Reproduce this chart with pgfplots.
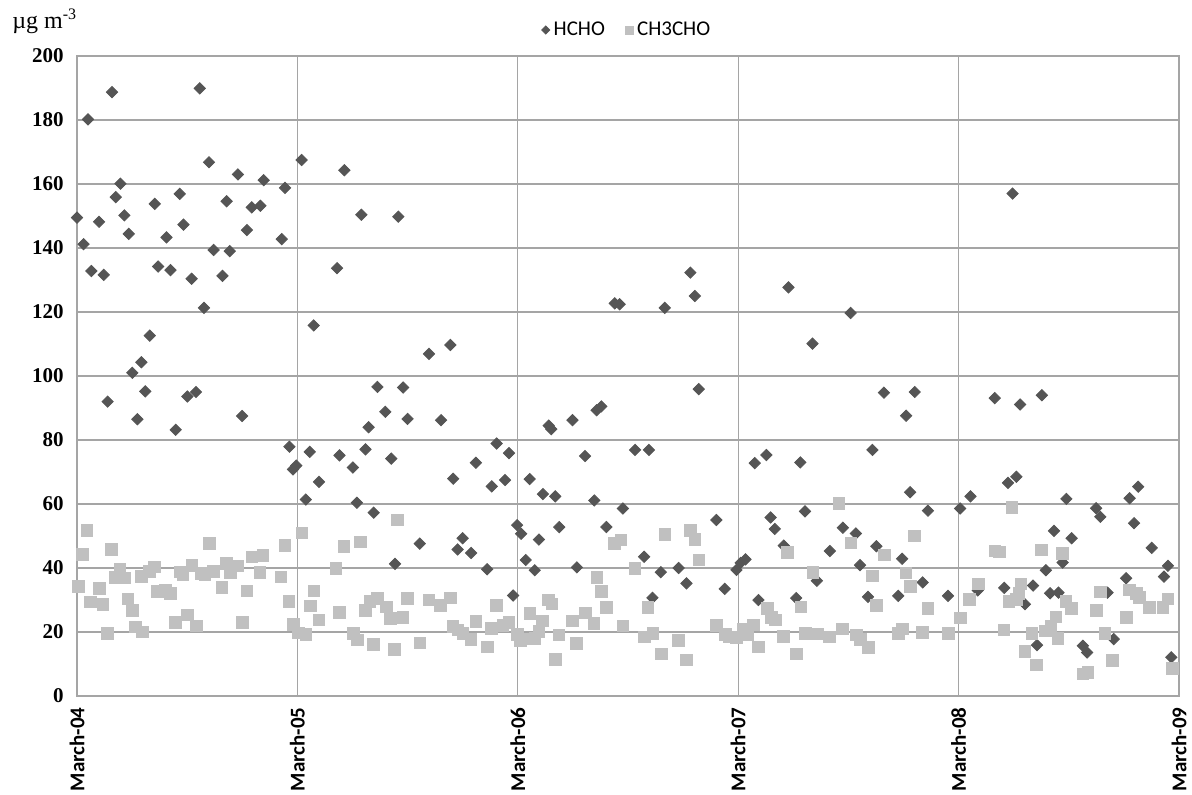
\documentclass[border=0pt]{standalone}
\usepackage{pgfplots}
\pgfplotsset{compat=1.18}
\usepackage{fontspec}
\setmainfont{Liberation Serif}
\newfontfamily\calib{Carlito}
\definecolor{gridc}{RGB}{165,165,165}
\definecolor{hcho}{RGB}{85,85,85}
\definecolor{acet}{RGB}{192,192,192}
\begin{document}
\begin{tikzpicture}[x=1pt,y=1pt]
\useasboundingbox (-38.5,-49) rectangle (557.5,348);
\begin{axis}[
  at={(0,0)}, anchor=south west,
  scale only axis, width=551pt, height=320pt,
  xmin=0, xmax=5, ymin=0, ymax=200,
  xtick={0,1,2,3,4,5},
  xticklabels={March-04,March-05,March-06,March-07,March-08,March-09},
  ytick={0,20,...,200},
  grid=major,
  major grid style={draw=gridc, line width=0.6pt},
  axis line style={draw=gridc, line width=0.7pt},
  major tick length=0pt,
  /pgf/number format/assume math mode=true,
  xticklabel style={font=\calib\bfseries\fontsize{10.5}{12}\selectfont, rotate=90, anchor=east, inner sep=0pt},
  yticklabel style={font=\bfseries\fontsize{10.5}{12}\selectfont, anchor=east, inner sep=0pt},
  xticklabel shift=5.5pt,
  yticklabel shift=6.5pt,
  clip=false,
  legend style={at={(0.5,1)}, anchor=center, yshift=13pt, draw=none, fill=none,
    font=\calib\fontsize{10.5}{12}\selectfont,
    /tikz/every even column/.append style={column sep=8pt}},
  legend columns=-1,
  legend image post style={every mark/.append style={scale=0.7}},
]
\addplot[only marks, mark=square*, mark size=2.0pt, mark options={rotate=45, fill=hcho, draw=hcho}] table {
x y
0.000 149.5
0.030 141.2
0.050 180.2
0.065 132.8
0.100 148.2
0.121 131.6
0.139 92.0
0.159 188.7
0.176 155.9
0.197 160.1
0.215 150.2
0.235 144.4
0.251 101.0
0.274 86.5
0.292 104.3
0.310 95.2
0.330 112.6
0.353 153.8
0.368 134.2
0.406 143.3
0.424 133.1
0.448 83.2
0.466 156.9
0.483 147.3
0.501 93.6
0.520 130.4
0.540 95.0
0.557 189.9
0.576 121.3
0.599 166.8
0.620 139.4
0.660 131.3
0.679 154.6
0.693 139.0
0.730 163.0
0.749 87.5
0.771 145.6
0.793 152.7
0.832 153.2
0.847 161.2
0.929 142.8
0.944 158.8
0.964 77.9
0.980 70.8
0.995 72.0
1.019 167.5
1.038 61.4
1.056 76.3
1.074 115.8
1.098 66.9
1.180 133.7
1.191 75.2
1.213 164.3
1.252 71.4
1.270 60.4
1.290 150.4
1.309 77.1
1.323 84.0
1.346 57.3
1.363 96.6
1.399 88.8
1.426 74.2
1.443 41.3
1.458 149.8
1.480 96.4
1.500 86.6
1.555 47.6
1.597 106.9
1.652 86.2
1.694 109.7
1.707 67.9
1.727 45.8
1.750 49.3
1.788 44.7
1.810 72.9
1.861 39.6
1.882 65.5
1.904 78.9
1.942 67.5
1.960 75.9
1.979 31.4
1.997 53.4
2.015 50.7
2.036 42.5
2.054 67.8
2.077 39.3
2.096 48.9
2.114 63.1
2.140 84.5
2.152 83.4
2.170 62.4
2.188 52.8
2.248 86.2
2.268 40.2
2.305 75.0
2.347 61.1
2.358 89.3
2.379 90.5
2.402 52.8
2.440 122.7
2.462 122.4
2.477 58.6
2.532 76.9
2.573 43.5
2.595 76.9
2.611 30.7
2.649 38.7
2.667 121.3
2.730 40.0
2.765 35.2
2.783 132.3
2.803 125.0
2.821 95.9
2.901 55.0
2.939 33.5
2.992 39.4
3.011 41.6
3.033 42.7
3.075 72.8
3.092 30.0
3.128 75.3
3.147 55.8
3.166 52.2
3.207 47.0
3.228 127.7
3.263 30.6
3.282 73.0
3.303 57.7
3.337 110.1
3.357 36.0
3.416 45.3
3.475 52.6
3.510 119.7
3.534 50.8
3.553 40.9
3.589 31.0
3.609 76.9
3.627 46.8
3.661 94.8
3.726 31.3
3.744 42.9
3.762 87.6
3.780 63.7
3.801 95.0
3.837 35.5
3.861 57.9
3.952 31.3
4.007 58.6
4.054 62.4
4.087 33.0
4.164 93.1
4.207 33.8
4.224 66.6
4.245 157.0
4.262 68.5
4.279 91.1
4.301 28.7
4.338 34.5
4.356 15.9
4.378 94.0
4.396 39.3
4.415 32.1
4.433 51.6
4.453 32.3
4.472 41.7
4.489 61.6
4.513 49.3
4.564 15.7
4.583 13.6
4.624 58.7
4.643 56.0
4.676 32.3
4.704 17.8
4.760 36.8
4.776 61.8
4.796 54.0
4.815 65.4
4.876 46.3
4.932 37.3
4.950 40.7
4.965 12.1
};
\addlegendentry{HCHO}
\addplot[only marks, mark=square*, mark size=2.9pt, mark options={fill=acet, draw=acet}] table {
x y
0.005 34.2
0.025 44.2
0.045 51.8
0.062 29.4
0.102 33.6
0.118 28.7
0.138 19.6
0.157 45.8
0.173 37.0
0.194 39.6
0.216 36.9
0.231 30.3
0.251 26.7
0.266 21.6
0.291 37.4
0.298 20.0
0.328 39.0
0.350 40.3
0.364 32.7
0.402 33.0
0.425 32.1
0.446 23.0
0.466 38.8
0.481 37.8
0.502 25.4
0.521 40.8
0.543 21.9
0.563 38.4
0.581 37.9
0.600 47.7
0.618 38.9
0.657 33.9
0.677 41.4
0.697 38.5
0.727 40.6
0.750 23.0
0.771 32.9
0.793 43.5
0.829 38.6
0.844 43.9
0.926 37.2
0.943 47.0
0.961 29.5
0.982 22.4
1.005 19.7
1.021 51.0
1.039 19.3
1.058 28.2
1.075 32.9
1.098 23.8
1.175 39.9
1.191 26.1
1.211 46.8
1.255 19.6
1.272 17.5
1.286 48.1
1.309 26.7
1.329 29.6
1.345 16.2
1.362 30.5
1.404 27.9
1.422 24.2
1.441 14.5
1.455 55.0
1.479 24.5
1.499 30.5
1.555 16.6
1.597 30.0
1.649 28.4
1.694 30.7
1.706 21.7
1.729 20.6
1.751 19.6
1.788 17.7
1.809 23.4
1.863 15.3
1.880 21.1
1.903 28.4
1.933 22.0
1.959 23.0
1.997 19.2
2.013 17.4
2.036 17.8
2.054 25.8
2.077 18.0
2.096 20.1
2.112 23.5
2.140 30.0
2.155 28.8
2.171 11.4
2.187 19.1
2.248 23.5
2.265 16.5
2.308 26.0
2.346 22.7
2.359 37.1
2.379 32.6
2.402 27.6
2.437 47.7
2.467 48.8
2.477 21.9
2.532 39.9
2.574 18.5
2.591 27.6
2.613 19.6
2.651 13.1
2.668 50.5
2.730 17.4
2.765 11.3
2.784 51.7
2.804 49.0
2.821 42.5
2.900 22.1
2.941 19.3
2.961 18.5
2.992 18.4
3.022 20.8
3.044 19.3
3.070 22.2
3.091 15.4
3.132 27.4
3.151 24.5
3.170 23.8
3.206 18.6
3.223 44.9
3.263 13.1
3.284 27.9
3.304 19.6
3.339 38.7
3.361 19.4
3.413 18.5
3.457 60.2
3.472 21.0
3.512 47.9
3.535 19.1
3.554 17.6
3.592 15.2
3.609 37.5
3.627 28.4
3.662 44.1
3.726 19.5
3.745 21.0
3.760 38.5
3.781 34.2
3.799 50.0
3.837 19.9
3.860 27.4
3.953 19.6
4.007 24.4
4.050 30.2
4.090 35.0
4.164 45.4
4.186 45.0
4.205 20.6
4.229 29.5
4.241 59.0
4.262 30.2
4.274 32.1
4.282 35.0
4.300 13.9
4.333 19.6
4.353 9.7
4.376 45.6
4.395 20.3
4.418 21.8
4.441 24.7
4.451 18.0
4.471 44.6
4.486 29.5
4.512 27.4
4.564 6.9
4.587 7.4
4.625 26.7
4.642 32.5
4.664 19.6
4.699 11.1
4.760 24.5
4.776 33.1
4.807 32.1
4.819 30.8
4.867 27.6
4.927 27.6
4.950 30.4
4.970 8.6
};
\addlegendentry{CH3CHO}
\node[anchor=base west, font=\fontsize{12}{14}\selectfont, inner sep=0pt] at (rel axis cs:0,1) [xshift=-32.5pt, yshift=14pt] {µg m\textsuperscript{-3}};
\end{axis}
\end{tikzpicture}
\end{document}
